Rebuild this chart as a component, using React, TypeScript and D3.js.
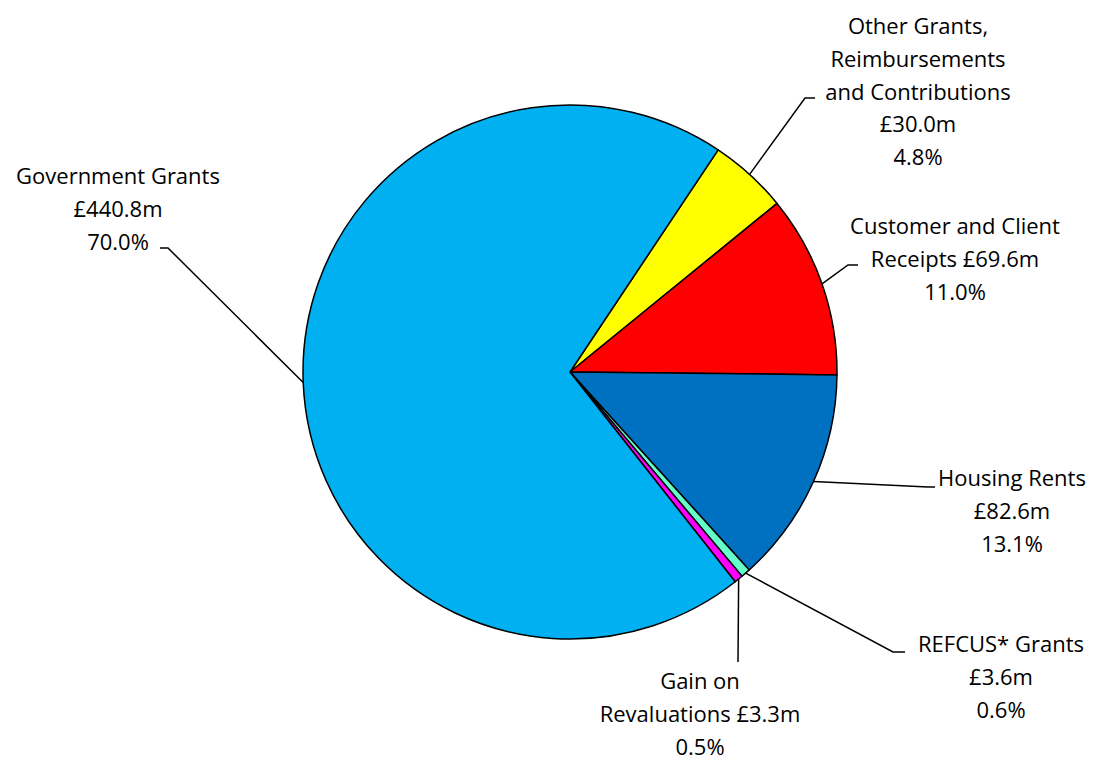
import React from "react";
import * as d3 from "d3";

const categories = [
  "Other Grants, Reimbursements and Contributions",
  "Customer and Client Receipts",
  "Housing Rents",
  "REFCUS* Grants",
  "Gain on Revaluations",
  "Government Grants",
];
const values = [30.0, 69.6, 82.6, 3.6, 3.3, 440.8];
const percents = ["4.8%", "11.0%", "13.1%", "0.6%", "0.5%", "70.0%"];
const labelLines = [
  ["Other Grants,", "Reimbursements", "and Contributions", "£30.0m", "4.8%"],
  ["Customer and Client", "Receipts £69.6m", "11.0%"],
  ["Housing Rents", "£82.6m", "13.1%"],
  ["REFCUS* Grants", "£3.6m", "0.6%"],
  ["Gain on", "Revaluations £3.3m", "0.5%"],
  ["Government Grants", "£440.8m", "70.0%"],
];
const colors = ["#FFFF00", "#FF0000", "#0070C0", "#66FFCC", "#FF00FF", "#00B0F0"];

// label layout: center x, first line center y, leader elbow points
const labelPos = [
  { x: 918, y: 25, elbow: [805, 98], end: [815, 98] },
  { x: 955, y: 225, elbow: [848, 265], end: [858, 265] },
  { x: 1012, y: 477, elbow: [928, 487], end: [935, 487] },
  { x: 1001, y: 643, elbow: [893, 652], end: [905, 652] },
  { x: 700, y: 680, elbow: [738, 662], end: [738, 662] },
  { x: 118, y: 175, elbow: [168, 248], end: [160, 248] },
];

const W = 1097;
const H = 760;
const cx = 570;
const cy = 372;
const R = 267;
const lineH = 32.8;

export default function App() {
  const start = (33.7 * Math.PI) / 180;
  const pie = d3
    .pie<number>()
    .sort(null)
    .value((d) => d)
    .startAngle(start)
    .endAngle(start + 2 * Math.PI);
  const arcs = pie(values);
  const arc = d3.arc<d3.PieArcDatum<number>>().innerRadius(0).outerRadius(R);

  return (
    <svg
      width={W}
      height={H}
      style={{ position: "absolute", left: 0, top: 0, background: "#fff" }}
    >
      <g transform={`translate(${cx},${cy})`}>
        {arcs.map((a, i) => (
          <path
            key={categories[i]}
            d={arc(a) || ""}
            fill={colors[i]}
            stroke="#000"
            strokeWidth={1.5}
            strokeLinejoin="round"
          />
        ))}
      </g>
      {arcs.map((a, i) => {
        const mid = (a.startAngle + a.endAngle) / 2;
        const ax = cx + Math.sin(mid) * R;
        const ay = cy - Math.cos(mid) * R;
        const p = labelPos[i];
        return (
          <polyline
            key={"l" + i}
            points={`${ax},${ay} ${p.elbow[0]},${p.elbow[1]} ${p.end[0]},${p.end[1]}`}
            fill="none"
            stroke="#000"
            strokeWidth={1.5}
          />
        );
      })}
      {labelLines.map((lines, i) => (
        <text
          key={"t" + i}
          textAnchor="middle"
          fontFamily="'Open Sans', Lato, sans-serif"
          fontSize={22}
          fill="#000"
        >
          {lines.map((ln, j) => (
            <tspan
              key={j}
              x={labelPos[i].x}
              y={labelPos[i].y + j * lineH}
              dominantBaseline="central"
            >
              {ln}
            </tspan>
          ))}
        </text>
      ))}
    </svg>
  );
}
